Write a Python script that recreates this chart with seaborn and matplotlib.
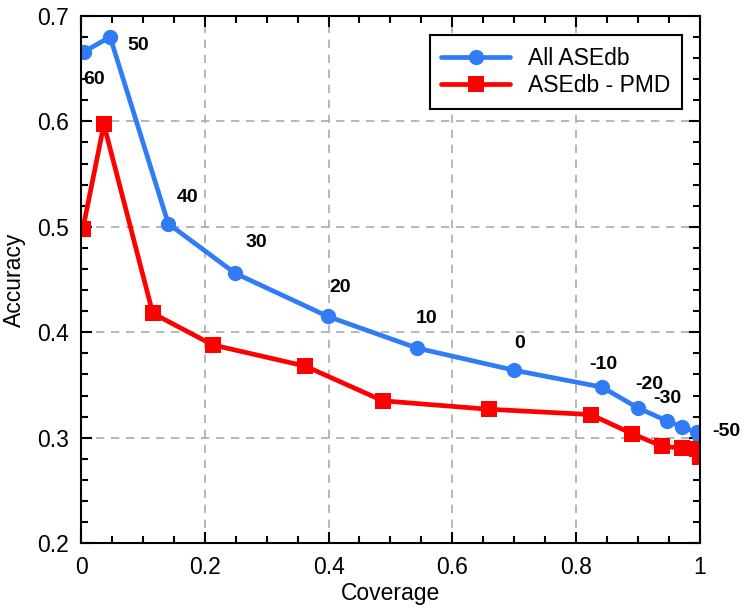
import matplotlib
matplotlib.use('Agg')
import matplotlib.pyplot as plt
import seaborn as sns
import pandas as pd
from matplotlib.ticker import MultipleLocator, FormatStrFormatter

# datos
cov_all = [0.005, 0.047, 0.141, 0.249, 0.399, 0.543, 0.700, 0.842, 0.901, 0.947, 0.972, 0.995, 1.0]
acc_all = [0.666, 0.680, 0.503, 0.456, 0.415, 0.385, 0.364, 0.348, 0.328, 0.316, 0.310, 0.305, 0.299]
cov_pmd = [0.003, 0.037, 0.116, 0.213, 0.362, 0.488, 0.659, 0.824, 0.890, 0.939, 0.972, 0.995, 1.0]
acc_pmd = [0.498, 0.597, 0.418, 0.388, 0.368, 0.335, 0.327, 0.322, 0.304, 0.292, 0.290, 0.289, 0.282]
thresholds = ['60', '50', '40', '30', '20', '10', '0', '-10', '-20', '-30', '', '', '-50']

sns.set_style('ticks')
plt.rcParams['font.family'] = ['Liberation Sans', 'DejaVu Sans']
plt.rcParams['text.color'] = 'black'
plt.rcParams['axes.labelcolor'] = 'black'
plt.rcParams['xtick.color'] = 'black'
plt.rcParams['ytick.color'] = 'black'
plt.rcParams['axes.edgecolor'] = 'black'

df = pd.concat([
    pd.DataFrame({'Coverage': cov_all, 'Accuracy': acc_all, 'serie': 'All ASEdb'}),
    pd.DataFrame({'Coverage': cov_pmd, 'Accuracy': acc_pmd, 'serie': 'ASEdb - PMD'}),
])

fig = plt.figure(figsize=(7.5, 6.09), dpi=100)
ax = fig.add_axes([0.108, 0.108, 0.825, 0.866])

sns.lineplot(data=df, x='Coverage', y='Accuracy', hue='serie', style='serie',
             markers={'All ASEdb': 'o', 'ASEdb - PMD': 's'}, dashes=False,
             palette={'All ASEdb': '#2f7cf6', 'ASEdb - PMD': '#ff0000'},
             linewidth=3.4, markersize=11, markeredgewidth=0, sort=False, ax=ax)

# etiquetas de umbral junto a cada punto azul
offsets = [(7, -20), (20, -6), (14, 19), (15, 22), (9, 21), (7, 21), (4, 19),
           (1, 16), (8, 17), (0, 16), (0, 0), (0, 0), (19, 5)]
for x, y, lab, off in zip(cov_all, acc_all, thresholds, offsets):
    if lab:
        ax.annotate(lab, (x, y), xytext=off, textcoords='offset points',
                    ha='center', va='center', fontsize=14, fontweight='bold')

ax.set_xlim(0, 1)
ax.set_ylim(0.2, 0.7)
ax.xaxis.set_major_locator(MultipleLocator(0.2))
ax.xaxis.set_minor_locator(MultipleLocator(0.05))
ax.yaxis.set_major_locator(MultipleLocator(0.1))
ax.yaxis.set_minor_locator(MultipleLocator(0.02))
ax.xaxis.set_major_formatter(FormatStrFormatter('%g'))
ax.yaxis.set_major_formatter(FormatStrFormatter('%g'))
ax.tick_params(which='both', direction='in', top=True, right=True, width=1.5, labelsize=16.5, pad=9)
ax.tick_params(which='major', length=8)
ax.tick_params(which='minor', length=5)
for s in ax.spines.values():
    s.set_linewidth(1.5)
ax.grid(True, which='major', linestyle=(0, (5, 4)), color='#aaaaaa', linewidth=1.2)

ax.set_xlabel('Coverage', fontsize=16.5, labelpad=2)
ax.set_ylabel('Accuracy', fontsize=16.5, labelpad=8)

leg = ax.legend(loc='upper right', bbox_to_anchor=(0.99, 0.985), fontsize=16.5,
                frameon=True, fancybox=False, edgecolor='black', handlelength=3,
                borderpad=0.5, labelspacing=0.2, framealpha=1)
leg.get_frame().set_linewidth(1.5)
leg.set_title(None)

plt.savefig('out.png', dpi=100)
plt.close()
